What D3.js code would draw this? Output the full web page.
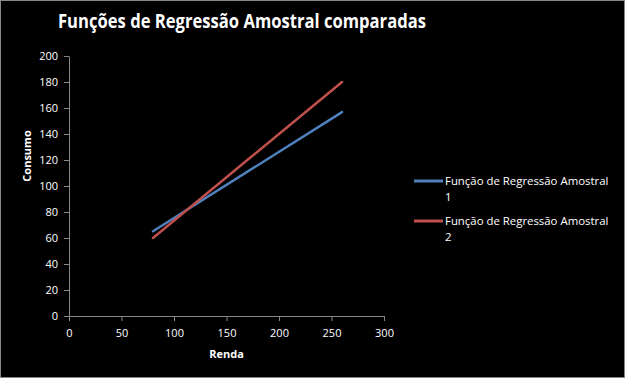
<!DOCTYPE html>
<html>
<head>
<meta charset="utf-8">
<script src="https://cdn.jsdelivr.net/npm/d3@7"></script>
<style>
  body { margin: 0; background: #000; }
  text { font-family: "Open Sans", "Liberation Sans", sans-serif; }
</style>
</head>
<body>
<div id="chart-area"></div>
<script>
var renda = [80, 260];
var consumo1 = [65.2, 156.8];
var consumo2 = [60, 180];
var seriesNames = ["Função de Regressão Amostral 1", "Função de Regressão Amostral 2"];
var seriesColors = ["#4F81BD", "#C0504D"];
var xTicks = [0, 50, 100, 150, 200, 250, 300];
var yTicks = [0, 20, 40, 60, 80, 100, 120, 140, 160, 180, 200];

var W = 625, H = 378;
var margin = { top: 56, left: 69, right: 241, bottom: 62 };
var width = W - margin.left - margin.right,
    height = H - margin.top - margin.bottom;

var svg = d3.select("#chart-area")
    .append("svg")
    .attr("width", W)
    .attr("height", H);

svg.append("rect")
    .attr("x", 0.5).attr("y", 0.5)
    .attr("width", W - 1).attr("height", H - 1)
    .attr("fill", "#000")
    .attr("stroke", "#868686");

svg.append("text")
    .attr("x", 58)
    .attr("y", 28)
    .attr("fill", "#fff")
    .attr("font-weight", "bold")
    .attr("font-size", "19px")
    .attr("textLength", 368)
    .attr("lengthAdjust", "spacingAndGlyphs")
    .text("Funções de Regressão Amostral comparadas");

var g = svg.append("g")
    .attr("transform", "translate(" + margin.left + "," + margin.top + ")");

var x = d3.scaleLinear().domain([0, 300]).range([0, width]);
var y = d3.scaleLinear().domain([0, 200]).range([height, 0]);

var xAxis = g.append("g")
    .attr("transform", "translate(0," + height + ")")
    .call(d3.axisBottom(x).tickValues(xTicks).tickSize(5).tickSizeOuter(0));
var yAxis = g.append("g")
    .call(d3.axisLeft(y).tickValues(yTicks).tickSize(5).tickSizeOuter(0));

[xAxis, yAxis].forEach(function (a) {
    a.selectAll("path, line").attr("stroke", "#868686");
    a.selectAll("text")
        .attr("fill", "#fff")
        .style("font-family", "Open Sans, Liberation Sans, sans-serif")
        .style("font-size", "11px");
});
xAxis.selectAll("text").attr("dy", "1.2em");
yAxis.selectAll("text").attr("x", -11);

var line = d3.line()
    .x(function (d) { return x(d[0]); })
    .y(function (d) { return y(d[1]); });

[consumo1, consumo2].forEach(function (vals, i) {
    g.append("path")
        .datum(renda.map(function (r, j) { return [r, vals[j]]; }))
        .attr("fill", "none")
        .attr("stroke", seriesColors[i])
        .attr("stroke-width", 2.5)
        .attr("stroke-linecap", "round")
        .attr("d", line);
});

g.append("text")
    .attr("x", width / 2)
    .attr("y", height + 42)
    .attr("text-anchor", "middle")
    .attr("fill", "#fff")
    .attr("font-weight", "bold")
    .attr("font-size", "11px")
    .text("Renda");

g.append("text")
    .attr("transform", "rotate(-90)")
    .attr("x", -(height / 2) + 30)
    .attr("y", -38)
    .attr("text-anchor", "middle")
    .attr("fill", "#fff")
    .attr("font-weight", "bold")
    .attr("font-size", "11px")
    .text("Consumo");

var legend = svg.append("g").attr("transform", "translate(414,181)");
seriesNames.forEach(function (name, i) {
    var row = legend.append("g").attr("transform", "translate(0," + i * 40 + ")");
    row.append("line")
        .attr("x1", 0).attr("x2", 29)
        .attr("stroke", seriesColors[i])
        .attr("stroke-width", 3);
    var words = name.split(" ");
    var last = words.pop();
    row.append("text")
        .attr("x", 31).attr("y", 4)
        .attr("fill", "#fff")
        .attr("font-size", "11.4px")
        .text(words.join(" "));
    row.append("text")
        .attr("x", 31).attr("y", 20)
        .attr("fill", "#fff")
        .attr("font-size", "11.4px")
        .text(last);
});
</script>
</body>
</html>
